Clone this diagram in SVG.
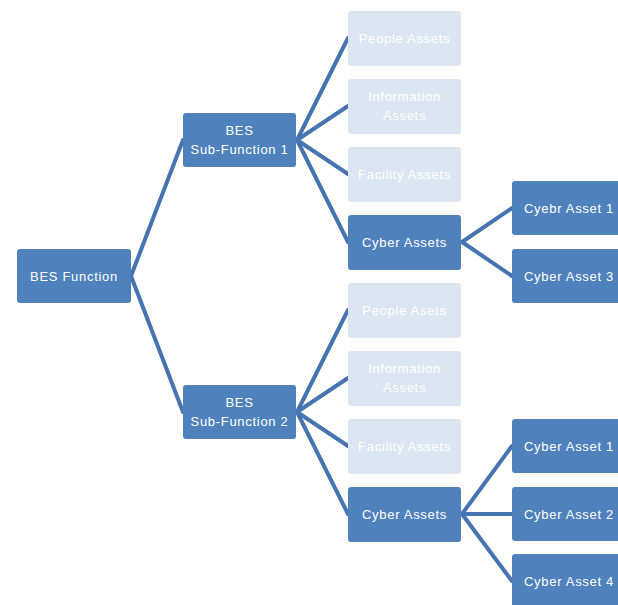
<svg xmlns="http://www.w3.org/2000/svg" width="618" height="605" viewBox="0 0 618 605">
<style>
.n rect{fill:#4f81bd;}
.f rect{fill:#dce6f2;}
rect{rx:3;ry:3;}
text{font-family:"Liberation Sans",Arial,sans-serif;font-size:13px;fill:#ffffff;text-anchor:middle;letter-spacing:0.7px;}
.c line{stroke:#4674b0;stroke-width:4;stroke-linecap:round;}
</style>
<rect width="618" height="605" fill="#ffffff"/>
<g class="c">
<line x1="131" y1="276" x2="183" y2="140"/>
<line x1="131" y1="276" x2="183" y2="412"/>
<line x1="297" y1="140" x2="348" y2="38"/>
<line x1="297" y1="140" x2="348" y2="106"/>
<line x1="297" y1="140" x2="348" y2="174"/>
<line x1="297" y1="140" x2="348" y2="242"/>
<line x1="297" y1="412" x2="348" y2="310"/>
<line x1="297" y1="412" x2="348" y2="378"/>
<line x1="297" y1="412" x2="348" y2="446"/>
<line x1="297" y1="412" x2="348" y2="514"/>
<line x1="462" y1="242" x2="512" y2="208"/>
<line x1="462" y1="242" x2="512" y2="276"/>
<line x1="462" y1="514" x2="512" y2="446"/>
<line x1="462" y1="514" x2="512" y2="514"/>
<line x1="462" y1="514" x2="512" y2="581"/>
</g>
<g id="bes-function" class="n"><rect x="17" y="249" width="114" height="54"/><text x="74" y="280.5">BES Function</text></g>
<g id="sub1" class="n"><rect x="183" y="113" width="113" height="54"/><text x="239.5" y="134.5">BES</text><text x="239.5" y="153.5">Sub-Function 1</text></g>
<g id="sub2" class="n"><rect x="183" y="385" width="113" height="54"/><text x="239.5" y="406.5">BES</text><text x="239.5" y="425.5">Sub-Function 2</text></g>
<g id="people1" class="f"><rect x="348" y="11" width="113" height="55"/><text x="404.5" y="42.5">People Assets</text></g>
<g id="info1" class="f"><rect x="348" y="79" width="113" height="55"/><text x="404.5" y="101">Information</text><text x="404.5" y="120">Assets</text></g>
<g id="facility1" class="f"><rect x="348" y="147" width="113" height="55"/><text x="404.5" y="178.5">Facility Assets</text></g>
<g id="cyber1" class="n"><rect x="348" y="215" width="113" height="55"/><text x="404.5" y="246.5">Cyber Assets</text></g>
<g id="people2" class="f"><rect x="348" y="283" width="113" height="55"/><text x="404.5" y="314.5">People Asets</text></g>
<g id="info2" class="f"><rect x="348" y="351" width="113" height="55"/><text x="404.5" y="373">Information</text><text x="404.5" y="392">Assets</text></g>
<g id="facility2" class="f"><rect x="348" y="419" width="113" height="55"/><text x="404.5" y="450.5">Facility Assets</text></g>
<g id="cyber2" class="n"><rect x="348" y="487" width="113" height="55"/><text x="404.5" y="518.5">Cyber Assets</text></g>
<g id="ca1a" class="n"><rect x="512" y="181" width="114" height="54"/><text x="569" y="212.5">Cyebr Asset 1</text></g>
<g id="ca3a" class="n"><rect x="512" y="249" width="114" height="54"/><text x="569" y="280.5">Cyber Asset 3</text></g>
<g id="ca1b" class="n"><rect x="512" y="419" width="114" height="54"/><text x="569" y="450.5">Cyber Asset 1</text></g>
<g id="ca2b" class="n"><rect x="512" y="487" width="114" height="54"/><text x="569" y="518.5">Cyber Asset 2</text></g>
<g id="ca4b" class="n"><rect x="512" y="554" width="114" height="54"/><text x="569" y="585.5">Cyber Asset 4</text></g>
</svg>
